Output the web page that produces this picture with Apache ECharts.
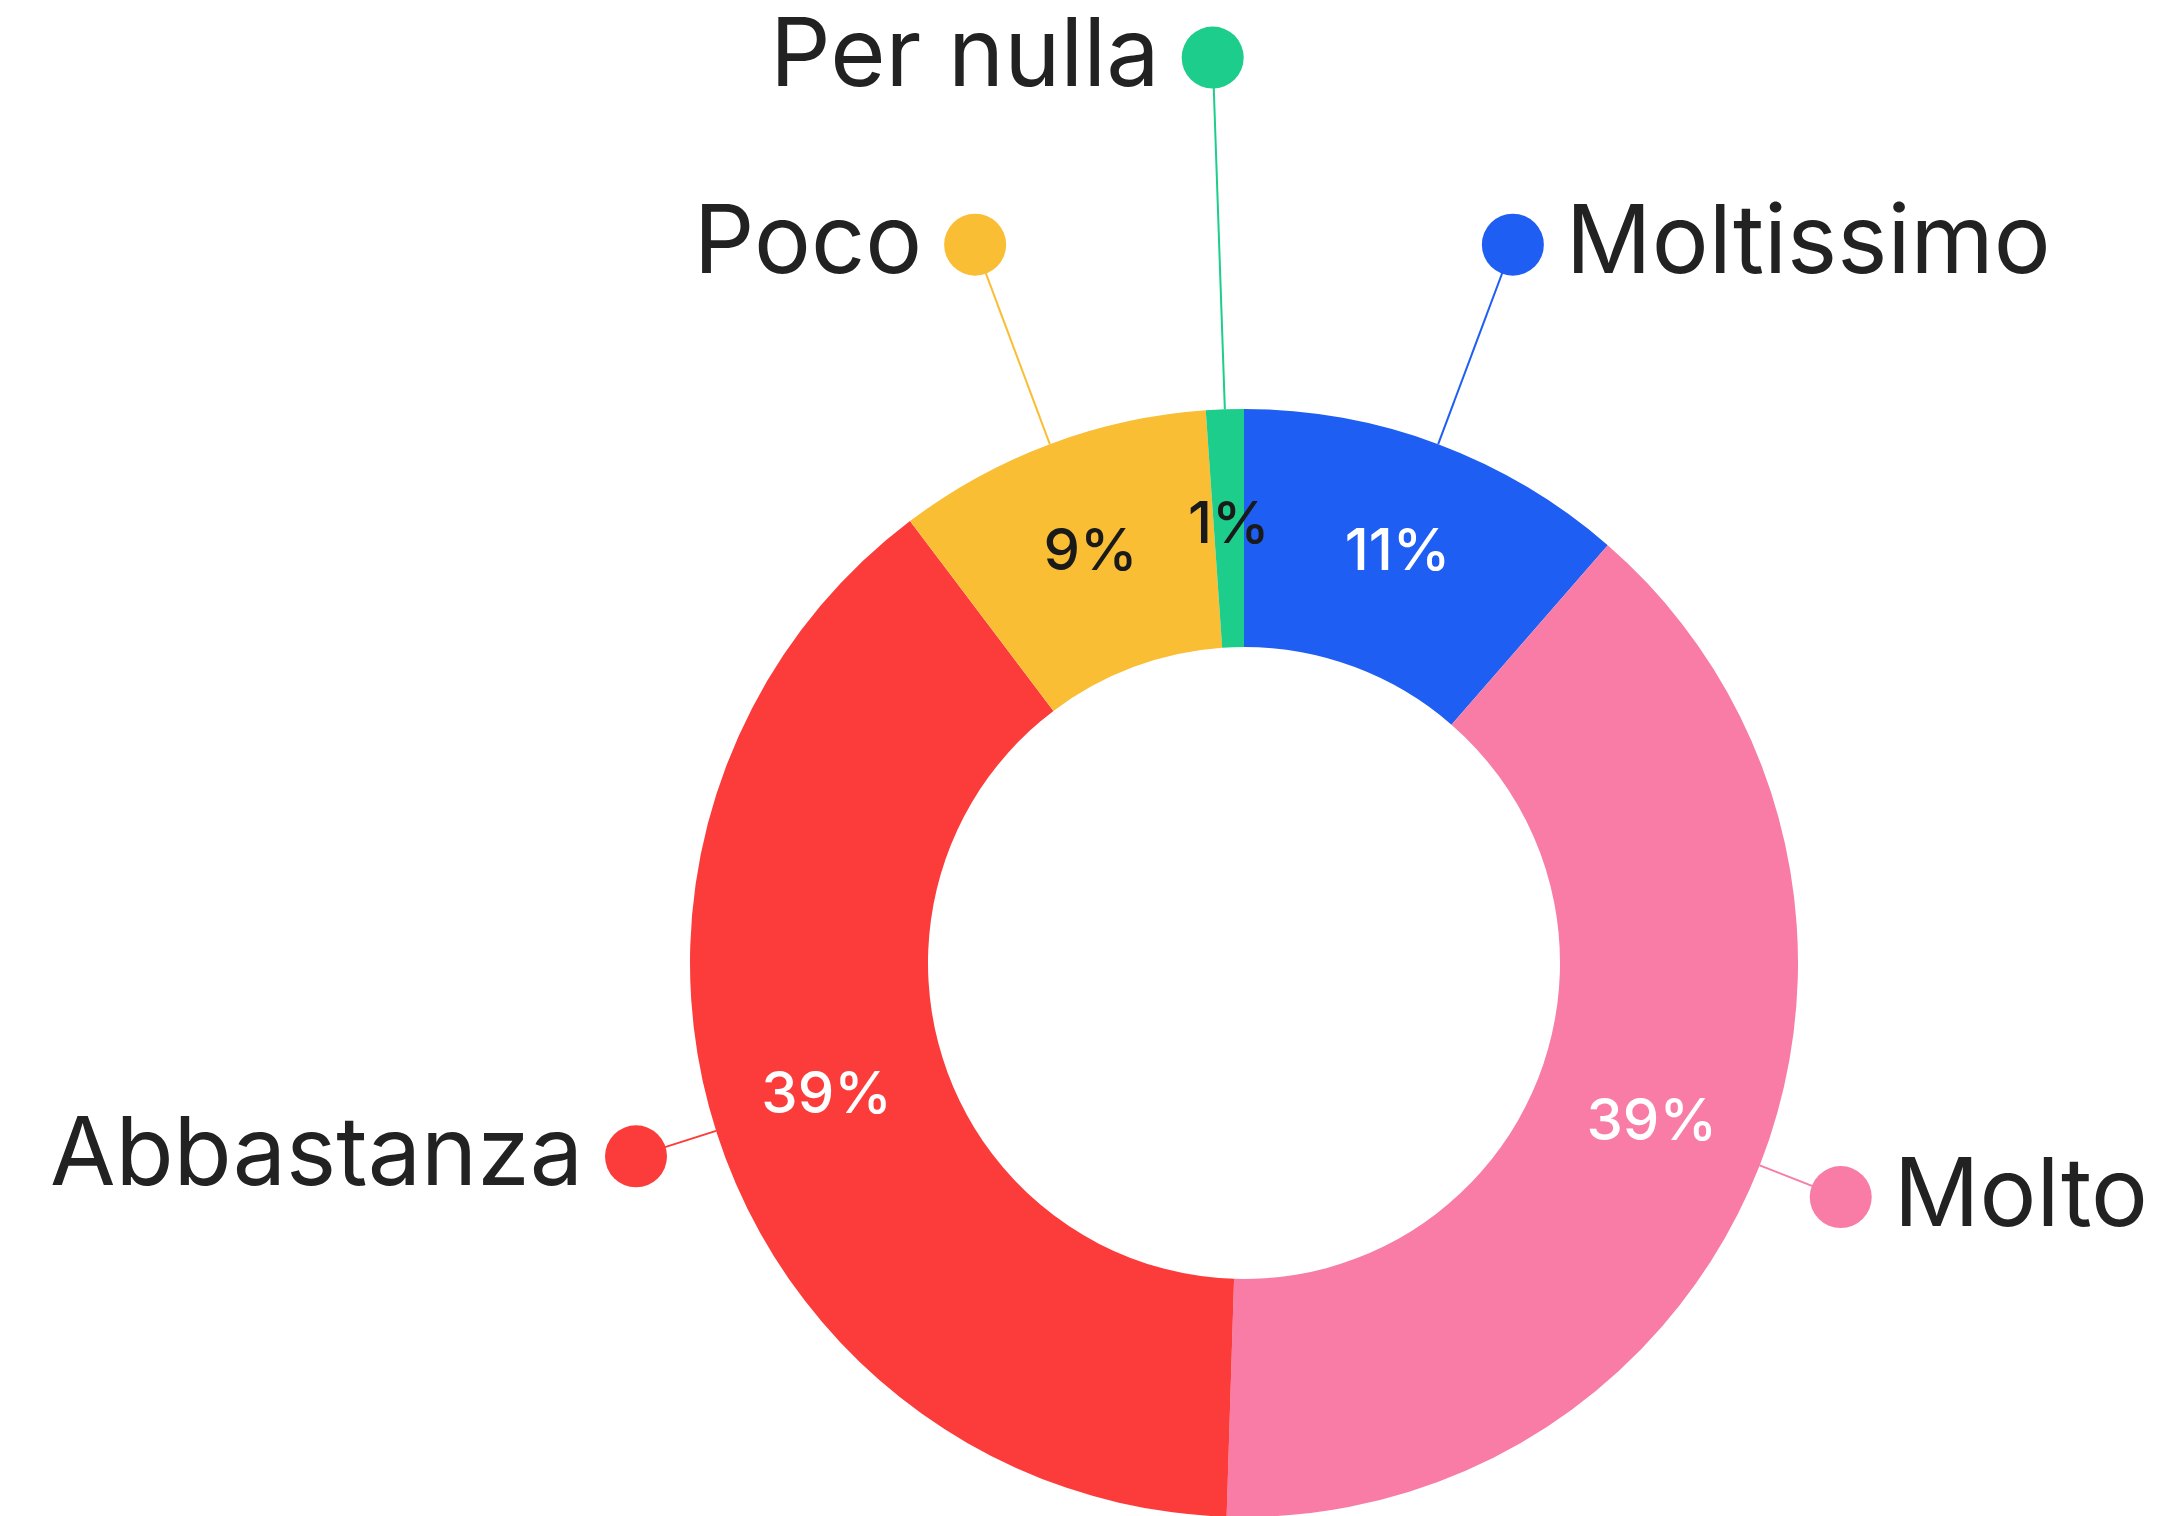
<!DOCTYPE html>
<html>
<head>
<meta charset="utf-8">
<title>Donut</title>
<script src="https://cdn.jsdelivr.net/npm/echarts@6/dist/echarts.min.js"></script>
<style>
  html, body { margin: 0; padding: 0; background: #fff; }
  #main { width: 2161px; height: 1516px; }
</style>
</head>
<body>
<div id="main"></div>
<script>
const categories = ['Moltissimo', 'Molto', 'Abbastanza', 'Poco', 'Per nulla']
const values = [11.4, 39.1, 39.2, 9.2, 1.1]

const colors = ['#1f5ef2', '#f87ca6', '#fb3c3b', '#f9be33', '#1ccd8b']
const pctColors = ['#ffffff', '#ffffff', '#ffffff', '#1a1a1a', '#1a1a1a']
// lunghezza della linea guida per ogni fetta
const lineLengths = [213, 87, 84, 213, 352]

const total = values.reduce((a, b) => a + b, 0)
function isLeft (i) {
  let before = 0
  for (let k = 0; k < i; k++) before += values[k]
  return (before + values[i] / 2) / total > 0.5
}

const rich = {
  name: { fontFamily: 'Inter', fontSize: 95, color: '#222222', lineHeight: 100 },
  gap: { width: 22, height: 10 }
}
colors.forEach((c, i) => {
  rich['dot' + i] = { width: 62, height: 62, borderRadius: 31, backgroundColor: c }
})

const myChart = echarts.init(document.getElementById('main'))

const option = {
  animation: false,
  series: [
    {
      type: 'pie',
      center: [1244, 963],
      radius: [316, 554],
      startAngle: 90,
      clockwise: true,
      avoidLabelOverlap: false,
      silent: true,
      label: {
        position: 'inside',
        fontFamily: 'Inter',
        fontSize: 58,
        fontWeight: 500,
        formatter: p => Math.round(p.value) + '%'
      },
      labelLine: { show: false },
      data: categories.map((name, i) => ({
        name: name,
        value: values[i],
        itemStyle: { color: colors[i] },
        label: { color: pctColors[i] }
      }))
    },
    {
      type: 'pie',
      center: [1244, 963],
      radius: [316, 554],
      startAngle: 90,
      clockwise: true,
      avoidLabelOverlap: false,
      silent: true,
      itemStyle: { color: 'rgba(0,0,0,0)' },
      label: {
        position: 'outside',
        distanceToLabelLine: -31,
        rich: rich,
        formatter: p => isLeft(p.dataIndex)
          ? '{name|' + p.name + '}{gap|}{dot' + p.dataIndex + '|}'
          : '{dot' + p.dataIndex + '|}{gap|}{name|' + p.name + '}'
      },
      labelLine: { show: true, length2: 0, lineStyle: { width: 2 } },
      data: categories.map((name, i) => ({
        name: name,
        value: values[i],
        labelLine: { length: lineLengths[i], lineStyle: { color: colors[i] } }
      }))
    }
  ]
}

myChart.setOption(option)
</script>
</body>
</html>
